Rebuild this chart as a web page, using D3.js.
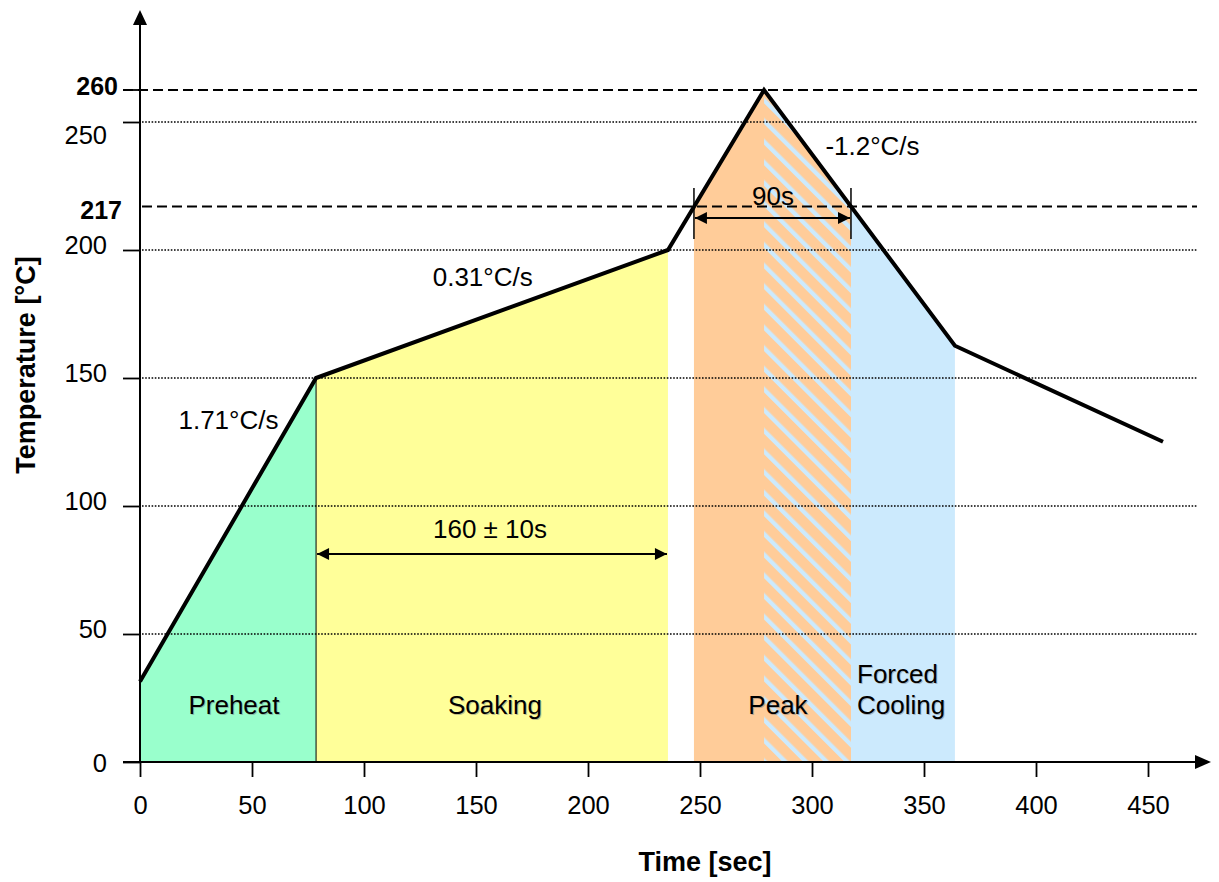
<!DOCTYPE html>
<html>
<head>
<meta charset="utf-8">
<script src="https://cdn.jsdelivr.net/npm/d3@7"></script>
<style>
  body { margin: 0; background: #fff; }
  svg { display: block; font-family: "Liberation Sans", Arial, sans-serif; }
</style>
</head>
<body>
<div id="chart"></div>
<script>
// reflow profile
var profileTime = [0, 78.6, 235.7, 278.6, 363.8, 456.7];
var profileTemp = [31.4, 150, 200, 262.5, 162.6, 125.1];

// coloured zones under the curve
var zoneNames = ["Preheat", "Soaking", "Peak", "Forced Cooling"];
var zoneStart = [0, 78.6, 247.3, 317.4];
var zoneEnd = [78.6, 235.7, 317.4, 363.8];
var zoneColors = ["#99ffcc", "#ffff99", "#ffcc99", "#cceafd"];
var hatchStart = 278.6, hatchEnd = 317.4;

// ramp rates
var rateLabels = ["1.71°C/s", "0.31°C/s", "-1.2°C/s"];
var rateTime = [39.5, 153, 327];
var rateTemp = [130, 186, 237];

// axes
var xTicks = [0, 50, 100, 150, 200, 250, 300, 350, 400, 450];
var yTicks = [0, 50, 100, 150, 200, 250];
var refValues = [217, 262.5];
var refLabels = ["217", "260"];

var width = 1219, height = 882;
var fs = 25.5;
var svg = d3.select("#chart").append("svg")
    .attr("width", width)
    .attr("height", height);

var x = d3.scaleLinear().domain([0, 450]).range([140, 1148]);
var y = d3.scaleLinear().domain([0, 250]).range([762, 122]);

var profile = profileTime.map(function(t, i){ return {t: t, v: profileTemp[i]}; });

// linear interpolation along the profile
function tempAt(t){
    for (var i = 1; i < profile.length; i++){
        if (t <= profile[i].t){
            var a = profile[i-1], b = profile[i];
            return a.v + (b.v - a.v) * (t - a.t) / (b.t - a.t);
        }
    }
    return profile[profile.length-1].v;
}

function zonePoints(t0, t1){
    var pts = [{t: t0, v: tempAt(t0)}];
    profile.forEach(function(p){ if (p.t > t0 && p.t < t1) pts.push(p); });
    pts.push({t: t1, v: tempAt(t1)});
    return pts;
}

var area = d3.area()
    .x(function(d){ return x(d.t); })
    .y0(y(0))
    .y1(function(d){ return y(d.v) - 1; });

// hatch pattern
var defs = svg.append("defs");
var pat = defs.append("pattern")
    .attr("id", "hatch")
    .attr("patternUnits", "userSpaceOnUse")
    .attr("width", 14.6).attr("height", 14.6)
    .attr("patternTransform", "rotate(-45)");
pat.append("rect").attr("width", 14.6).attr("height", 14.6).attr("fill", zoneColors[2]);
pat.append("rect").attr("x", 0).attr("width", 4.3).attr("height", 14.6).attr("fill", zoneColors[3]);

var arrowDef = defs.append("marker")
    .attr("id", "arrowhead")
    .attr("viewBox", "0 0 10 10")
    .attr("refX", 10).attr("refY", 5)
    .attr("markerWidth", 13).attr("markerHeight", 12)
    .attr("markerUnits", "userSpaceOnUse")
    .attr("orient", "auto-start-reverse");
arrowDef.append("path").attr("d", "M0,0L10,5L0,10Z").attr("fill", "#000");

// zones
svg.append("g").selectAll("path")
    .data(zoneNames)
    .enter().append("path")
    .attr("d", function(d, i){ return area(zonePoints(zoneStart[i], zoneEnd[i])); })
    .attr("fill", function(d, i){ return zoneColors[i]; });

svg.append("path")
    .attr("d", area(zonePoints(hatchStart, hatchEnd)))
    .attr("fill", "url(#hatch)");

// thin separator between preheat and soaking
svg.append("line")
    .attr("x1", x(zoneEnd[0])).attr("x2", x(zoneEnd[0]))
    .attr("y1", y(tempAt(zoneEnd[0]))).attr("y2", y(0))
    .attr("stroke", "#000").attr("stroke-width", 1);

// dotted grid
svg.append("g").selectAll("line")
    .data(yTicks.filter(function(d){ return d > 0; }))
    .enter().append("line")
    .attr("x1", x(0) + 2).attr("x2", 1197)
    .attr("y1", function(d){ return y(d); }).attr("y2", function(d){ return y(d); })
    .attr("stroke", "#000").attr("stroke-width", 1.3)
    .attr("stroke-dasharray", "1.6,1.6");

// dashed reference lines
svg.append("g").selectAll("line")
    .data(refValues)
    .enter().append("line")
    .attr("x1", function(d, i){ return i == 1 ? 123 : x(0) + 2; })
    .attr("x2", 1197)
    .attr("y1", function(d){ return y(d); }).attr("y2", function(d){ return y(d); })
    .attr("stroke", "#000").attr("stroke-width", 1.8)
    .attr("stroke-dasharray", "10,5");

svg.append("g").selectAll("text")
    .data(refLabels)
    .enter().append("text")
    .attr("x", function(d, i){ return i == 1 ? 118 : 122; })
    .attr("y", function(d, i){ return y(refValues[i]) + (i == 1 ? -4 : 4); })
    .attr("dy", "0.35em")
    .attr("text-anchor", "end")
    .attr("font-size", 25).attr("font-weight", "bold")
    .text(function(d){ return d; });

// axes
var xAxis = svg.append("g")
    .attr("transform", "translate(0," + y(0) + ")")
    .call(d3.axisBottom(x).tickValues(xTicks).tickSize(15).tickPadding(19).tickSizeOuter(0));
xAxis.select(".domain").remove();
xAxis.selectAll(".tick line").attr("stroke-width", 1.8);
xAxis.selectAll("text").attr("font-size", fs).attr("fill", "#000");

var yLabelNudge = {250: 13};
var yAxis = svg.append("g")
    .attr("transform", "translate(" + x(0) + ",0)")
    .call(d3.axisLeft(y).tickValues(yTicks).tickSize(17).tickPadding(16).tickSizeOuter(0));
yAxis.select(".domain").remove();
yAxis.selectAll(".tick line").attr("stroke-width", 1.8);
yAxis.selectAll("text")
    .attr("font-size", fs).attr("fill", "#000")
    .attr("y", function(d){ return d == 0 ? 1 : (yLabelNudge[d] || -5); });

// extra tick for the 260 reference
svg.append("line")
    .attr("x1", 123).attr("x2", x(0))
    .attr("y1", y(refValues[1])).attr("y2", y(refValues[1]))
    .attr("stroke", "#000").attr("stroke-width", 1.8);

// axis lines with arrows
svg.append("line")
    .attr("x1", 123).attr("x2", 1197)
    .attr("y1", y(0)).attr("y2", y(0))
    .attr("stroke", "#000").attr("stroke-width", 2);
svg.append("path")
    .attr("d", "M1211," + y(0) + "L1195," + (y(0) - 7) + "L1195," + (y(0) + 7) + "Z")
    .attr("fill", "#000");
svg.append("line")
    .attr("x1", x(0)).attr("x2", x(0))
    .attr("y1", y(0)).attr("y2", 24)
    .attr("stroke", "#000").attr("stroke-width", 2);
svg.append("path")
    .attr("d", "M" + x(0) + ",10L" + (x(0) - 7) + ",25L" + (x(0) + 7) + ",25Z")
    .attr("fill", "#000");

// profile line
var line = d3.line()
    .x(function(d){ return x(d.t); })
    .y(function(d){ return y(d.v); });
svg.append("path")
    .datum(profile)
    .attr("d", line)
    .attr("fill", "none")
    .attr("stroke", "#000")
    .attr("stroke-width", 4)
    .attr("stroke-linejoin", "miter");

// span arrows
function spanArrow(t0, t1, yy){
    svg.append("line")
        .attr("x1", x(t0) + 1).attr("x2", x(t1) - 1)
        .attr("y1", yy).attr("y2", yy)
        .attr("stroke", "#000").attr("stroke-width", 2)
        .attr("marker-start", "url(#arrowhead)")
        .attr("marker-end", "url(#arrowhead)");
}
spanArrow(zoneStart[1], zoneEnd[1], 554);
spanArrow(zoneStart[2], zoneEnd[2], 218);
[zoneStart[2], zoneEnd[2]].forEach(function(t){
    svg.append("line")
        .attr("x1", x(t)).attr("x2", x(t))
        .attr("y1", 188).attr("y2", 239)
        .attr("stroke", "#000").attr("stroke-width", 1.5);
});

svg.append("text")
    .attr("x", x((zoneStart[1] + zoneEnd[1]) / 2) - 2).attr("y", 538)
    .attr("text-anchor", "middle").attr("font-size", 26)
    .text("160 ± 10s");
svg.append("text")
    .attr("x", 773).attr("y", 205)
    .attr("text-anchor", "middle").attr("font-size", 26)
    .text("90s");

// ramp rate labels
svg.append("g").selectAll("text")
    .data(rateLabels)
    .enter().append("text")
    .attr("x", function(d, i){ return x(rateTime[i]); })
    .attr("y", function(d, i){ return y(rateTemp[i]); })
    .attr("text-anchor", "middle")
    .attr("font-size", 26)
    .text(function(d){ return d; });

// zone labels with a soft shadow
var zoneLabelX = [234, 495, 778, 857];
function zoneLabel(g, dx, dy, color){
    zoneNames.forEach(function(name, i){
        var words = i == 3 ? name.split(" ") : [name];
        var t = g.append("text")
            .attr("font-size", 26)
            .attr("fill", color)
            .attr("text-anchor", i == 3 ? "start" : "middle");
        words.forEach(function(w, j){
            t.append("tspan")
                .attr("x", zoneLabelX[i] + dx)
                .attr("y", 714 - (words.length - 1 - j) * 31 + dy)
                .text(w);
        });
    });
}
zoneLabel(svg.append("g").attr("opacity", 0.45), 1, 1, "#777");
zoneLabel(svg.append("g"), 0, 0, "#000");

// axis titles
svg.append("text")
    .attr("x", 705).attr("y", 871)
    .attr("text-anchor", "middle")
    .attr("font-size", 27).attr("font-weight", "bold")
    .text("Time [sec]");
svg.append("text")
    .attr("transform", "translate(35,365) rotate(-90)")
    .attr("text-anchor", "middle")
    .attr("font-size", 27).attr("font-weight", "bold")
    .text("Temperature [°C]");
</script>
</body>
</html>
